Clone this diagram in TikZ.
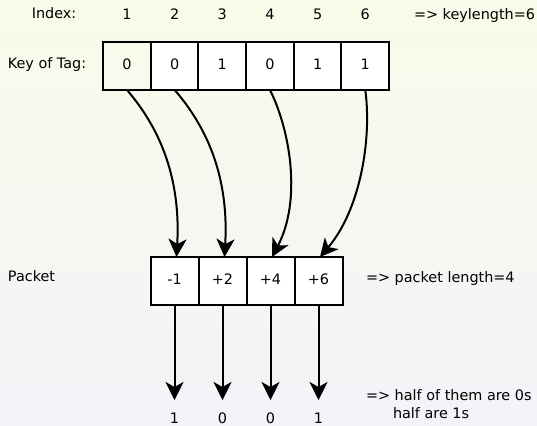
\documentclass[tikz,border=0pt]{standalone}
\usepackage{fontspec}
\setmainfont{DejaVu Sans}
\usetikzlibrary{arrows.meta}
\definecolor{bgtop}{RGB}{250,250,234}
\definecolor{bgbot}{RGB}{243,243,249}
\begin{document}
\begin{tikzpicture}[x=1pt,y=-1pt,
  font=\fontsize{14.4}{17}\selectfont,
  cell/.style={draw=black, line width=2pt, minimum width=47.7pt,
    minimum height=48pt, inner sep=0pt, outer sep=0pt, fill=white,
    text height=10.5pt, text depth=3pt},
  lbl/.style={inner sep=0pt, outer sep=0pt},
  flow/.style={line width=2pt, line cap=butt,
    -{Stealth[length=18pt,width=18pt,inset=5pt]}}]

% page and background
\useasboundingbox (0,0) rectangle (537,425);
\shade[top color=bgtop, bottom color=bgbot] (0,0) rectangle (537,425);

% header row
\node[lbl, anchor=base] (hidx) at (54,19) {Index:};
\foreach \i/\x in {1/127,2/174.7,3/222.3,4/270,5/317.7,6/365.3}
  \node[lbl, anchor=base] (i\i) at (\x,20) {\i};
\node[lbl, anchor=base west] (klen) at (414,20) {=> keylength=6};

% key of the tag
\node[lbl, anchor=base] (hkey) at (47,68.3) {Key of Tag:};
\node[cell, fill=none] (k1) at (127,66) {0};
\node[cell] (k2) at (174.7,66) {0};
\node[cell] (k3) at (222.3,66) {1};
\node[cell] (k4) at (270,66) {0};
\node[cell] (k5) at (317.7,66) {1};
\node[cell] (k6) at (365.3,66) {1};

% packet
\node[lbl, anchor=base west] (hpk) at (8,281.5) {Packet};
\node[cell, minimum width=48pt] (p1) at (174.5,281) {-1};
\node[cell, minimum width=48pt] (p2) at (222.5,281) {+2};
\node[cell, minimum width=48pt] (p3) at (270.5,281) {+4};
\node[cell, minimum width=48pt] (p4) at (318.5,281) {+6};
\node[lbl, anchor=base west] (plen) at (366,282.3) {=> packet length=4};

% positions of the ones in the key -> packet entries
\draw[flow] (k1.south) .. controls (170,140) and (180,195) .. ([xshift=2pt]p1.north);
\draw[flow] (k2.south) .. controls (218,140) and (228,195) .. ([xshift=2pt]p2.north);
\draw[flow] (k4.south) .. controls (290,130) and (302,200) .. ([xshift=1.5pt]p3.north);
\draw[flow] (k6.south) .. controls (372,140) and (360,210) .. ([xshift=1.5pt]p4.north);

% resulting bits
\foreach \j/\b in {1/1,2/0,3/0,4/1}{
  \coordinate (e\j) at ([yshift=-95pt]p\j.south);
  \draw[flow] (p\j.south) -- (e\j);
  \node[lbl, anchor=base] (r\j) at ([yshift=-23pt]e\j) {\b};
}
\node[lbl, anchor=base west] (half1) at (366,400.5) {=> half of them are 0s};
\node[lbl, anchor=base west] (half2) at (393,418.5) {half are 1s};
\end{tikzpicture}
\end{document}
